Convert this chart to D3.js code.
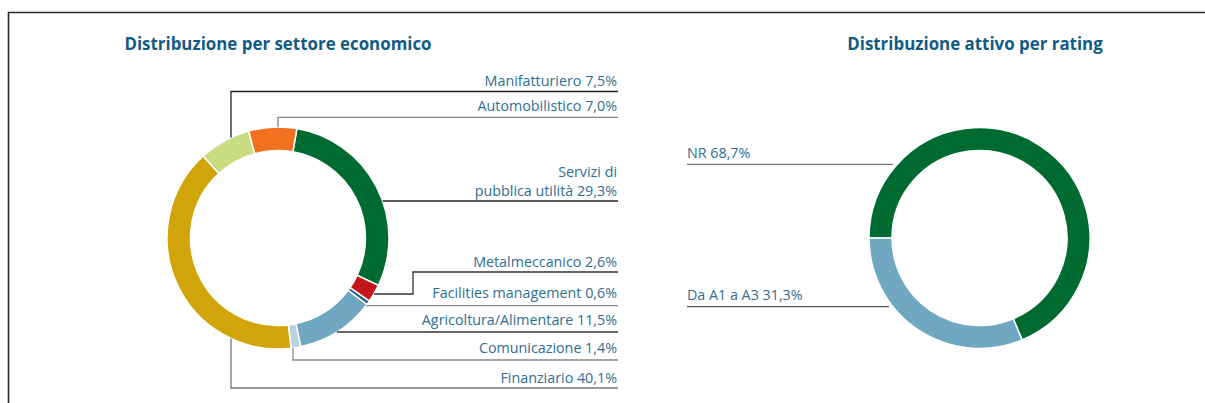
<!DOCTYPE html>
<html>
<head>
<meta charset="utf-8">
<script src="https://cdn.jsdelivr.net/npm/d3@7"></script>
<style>
  html, body { margin: 0; padding: 0; background: #fff; }
  svg { display: block; }
  .lbl { font-family: "Open Sans", sans-serif; font-size: 14.3px; fill: #2f6f93; }
  .ttl { font-family: "Open Sans", sans-serif; font-size: 16.9px; font-weight: 700; fill: #115b86; }
</style>
</head>
<body>
<svg id="chart" width="1205" height="403"></svg>
<script>
// ---- data ----
const sectorTitle = "Distribuzione per settore economico";
const sectorCategories = ["Servizi di pubblica utilità", "Metalmeccanico", "Facilities management",
  "Agricoltura/Alimentare", "Comunicazione", "Finanziario", "Manifatturiero", "Automobilistico"];
const sectorValues = [29.3, 2.6, 0.6, 11.5, 1.4, 40.1, 7.5, 7.0];

const ratingTitle = "Distribuzione attivo per rating";
const ratingCategories = ["NR", "Da A1 a A3"];
const ratingValues = [68.7, 31.3];

// ---- styles / layout (not data) ----
const sectorColors = ["#006b31", "#c4161c", "#1b5e86", "#6fa8c0", "#b7d3e0", "#d1a40a", "#c9dd80", "#f37021"];
const ratingColors = ["#006b31", "#6fa8c0"];

const svg = d3.select("#chart");
const fmt = v => d3.format(".1f")(v).replace(".", ",") + "%";

// frame
svg.append("path").attr("d", "M8.5,403V12.5H1205")
  .attr("fill", "none").attr("stroke", "#2a2a2a").attr("stroke-width", 1.6);

// titles
svg.append("text").attr("class", "ttl").attr("x", 278).attr("y", 50)
  .attr("text-anchor", "middle").text(sectorTitle);
svg.append("text").attr("class", "ttl").attr("x", 975).attr("y", 50)
  .attr("text-anchor", "middle").text(ratingTitle);

const deg = Math.PI / 180;
const R = 111, Rin = 87.5;
const arc = d3.arc().innerRadius(Rin).outerRadius(R);

// ---- left donut ----
const L = { cx: 278, cy: 238 };
const pieL = d3.pie().sort(null).value(d => d).startAngle(9.8 * deg).endAngle(369.8 * deg);
const gL = svg.append("g").attr("transform", `translate(${L.cx},${L.cy})`);
gL.selectAll("path").data(pieL(sectorValues)).join("path")
  .attr("d", arc).attr("fill", (d, i) => sectorColors[i])
  .attr("stroke", "#fff").attr("stroke-width", 1.5);

// label layout: baseline(s), leader y, leader type
const textRight = 617, lineRight = 618;
const sectorLabelLayout = [
  { lines: ["Servizi di", "pubblica utilità"], base: [177, 196], lineY: 201, type: "h", stroke: "#222" },
  { lines: ["Metalmeccanico"], base: [267], lineY: 272, type: "elbow", elbowX: 413, anchorY: 294, stroke: "#333" },
  { lines: ["Facilities management"], base: [298], lineY: 305.7, type: "h", stroke: "#888" },
  { lines: ["Agricoltura/Alimentare"], base: [325], lineY: 332, type: "h", stroke: "#333" },
  { lines: ["Comunicazione"], base: [353], lineY: 360, type: "vb", vx: 293, stroke: "#888" },
  { lines: ["Finanziario"], base: [383], lineY: 388, type: "vb", vx: 231, stroke: "#777" },
  { lines: ["Manifatturiero"], base: [86], lineY: 91.5, type: "vt", vx: 231, stroke: "#222" },
  { lines: ["Automobilistico"], base: [110.5], lineY: 117.3, type: "vt", vx: 278, stroke: "#888" }
];

function circleX(cx, cy, r, y, side) { const dy = y - cy; return cx + side * Math.sqrt(r * r - dy * dy); }
function circleY(cx, cy, r, x, side) { const dx = x - cx; return cy + side * Math.sqrt(r * r - dx * dx); }

sectorLabelLayout.forEach((lay, i) => {
  const t = svg.append("text").attr("class", "lbl").attr("text-anchor", "end");
  lay.lines.forEach((ln, k) => {
    const last = k === lay.lines.length - 1;
    t.append("tspan").attr("x", textRight).attr("y", lay.base[k])
      .text(last ? ln + " " + fmt(sectorValues[i]) : ln);
  });
  let pts;
  if (lay.type === "h") {
    pts = [[circleX(L.cx, L.cy, R, lay.lineY, 1), lay.lineY], [lineRight, lay.lineY]];
  } else if (lay.type === "elbow") {
    pts = [[circleX(L.cx, L.cy, R, lay.anchorY, 1), lay.anchorY], [lay.elbowX, lay.anchorY],
           [lay.elbowX, lay.lineY], [lineRight, lay.lineY]];
  } else if (lay.type === "vt") {
    pts = [[lay.vx, circleY(L.cx, L.cy, R, lay.vx, -1)], [lay.vx, lay.lineY], [lineRight, lay.lineY]];
  } else {
    pts = [[lay.vx, circleY(L.cx, L.cy, R, lay.vx, 1)], [lay.vx, lay.lineY], [lineRight, lay.lineY]];
  }
  svg.append("path").attr("d", d3.line()(pts)).attr("fill", "none")
    .attr("stroke", lay.stroke).attr("stroke-width", 1.3);
});

// ---- right donut ----
const Rr = { cx: 979.5, cy: 238 };
const arcR = d3.arc().innerRadius(87.5).outerRadius(110.5);
const pieR = d3.pie().sort(null).value(d => d).startAngle(-90 * deg).endAngle(270 * deg);
const gR = svg.append("g").attr("transform", `translate(${Rr.cx},${Rr.cy})`);
gR.selectAll("path").data(pieR(ratingValues)).join("path")
  .attr("d", arcR).attr("fill", (d, i) => ratingColors[i])
  .attr("stroke", "#fff").attr("stroke-width", 1.5);

const ratingLabelLayout = [
  { base: 158, lineY: 164.3, stroke: "#777" },
  { base: 300, lineY: 306.7, stroke: "#555" }
];
ratingLabelLayout.forEach((lay, i) => {
  svg.append("text").attr("class", "lbl").attr("x", 687).attr("y", lay.base)
    .text(ratingCategories[i] + " " + fmt(ratingValues[i]));
  const x2 = circleX(Rr.cx, Rr.cy, 110.5, lay.lineY, -1) - 4;
  svg.append("path").attr("d", d3.line()([[687, lay.lineY], [x2, lay.lineY]]))
    .attr("fill", "none").attr("stroke", lay.stroke).attr("stroke-width", 1.3);
});
</script>
</body>
</html>
